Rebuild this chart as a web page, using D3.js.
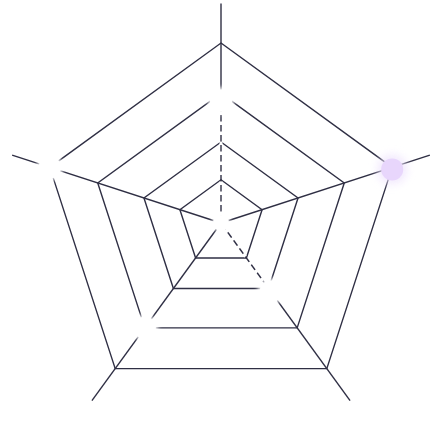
<!DOCTYPE html>
<html>
<head>
<meta charset="utf-8">
<script src="https://cdn.jsdelivr.net/npm/d3@7"></script>
<style>
	html, body { margin: 0; padding: 0; background: #ffffff; }
	#chart { width: 446px; height: 446px; }
</style>
</head>
<body>
<div id="chart"></div>
<script>
// Radar chart - five axes, four grid levels, one hovered point
(function() {
	'use strict';

	// Data
	const categories = ['A', 'B', 'C', 'D', 'E'];
	const values = [68, 100, 47, 72, 100];
	const levels = [24, 45, 72, 100];
	const maxValue = 100;
	const axisEnd = 122;
	const highlighted = 1;
	const dashedAxes = [0, 2];

	const width = 446;
	const height = 446;
	const cx = 221;
	const cy = 223;
	const outerRadius = 180;
	const lineColor = '#2f2f44';

	const svg = d3.select('#chart')
		.append('svg')
		.attr('width', width)
		.attr('height', height);

	// Filters for the soft halos
	const defs = svg.append('defs');
	defs.append('filter')
		.attr('id', 'halo')
		.attr('x', '-100%').attr('y', '-100%')
		.attr('width', '300%').attr('height', '300%')
		.append('feGaussianBlur')
		.attr('stdDeviation', 2.2);
	defs.append('filter')
		.attr('id', 'glow')
		.attr('x', '-100%').attr('y', '-100%')
		.attr('width', '300%').attr('height', '300%')
		.append('feGaussianBlur')
		.attr('stdDeviation', 4);

	const g = svg.append('g')
		.attr('transform', 'translate(' + cx + ',' + cy + ')');

	// Scales
	const r = d3.scaleLinear()
		.domain([0, maxValue])
		.range([0, outerRadius]);

	const angle = d3.scalePoint()
		.domain(categories)
		.range([0, 2 * Math.PI * (categories.length - 1) / categories.length]);

	function point(cat, v) {
		return d3.pointRadial(angle(cat), r(v));
	}

	// Grid levels
	const ring = d3.lineRadial()
		.angle(function(d) { return angle(d); })
		.curve(d3.curveLinearClosed);

	g.append('g')
		.attr('class', 'levels')
		.selectAll('path')
		.data(levels)
		.enter().append('path')
		.attr('d', function(lv) {
			return ring.radius(function() { return r(lv); })(categories);
		})
		.attr('fill', 'none')
		.attr('stroke', lineColor)
		.attr('stroke-width', 1.4);

	// Axes
	g.append('g')
		.attr('class', 'axes')
		.selectAll('line')
		.data(categories)
		.enter().append('line')
		.attr('x1', 0)
		.attr('y1', 0)
		.attr('x2', function(d) { return point(d, axisEnd)[0]; })
		.attr('y2', function(d) { return point(d, axisEnd)[1]; })
		.attr('stroke', lineColor)
		.attr('stroke-width', 1.4);

	// Dashed guides from centre to some points (white gaps over the axis)
	g.append('g')
		.attr('class', 'guides')
		.selectAll('line')
		.data(dashedAxes)
		.enter().append('line')
		.attr('x1', 0)
		.attr('y1', 0)
		.attr('x2', function(i) { return point(categories[i], values[i])[0]; })
		.attr('y2', function(i) { return point(categories[i], values[i])[1]; })
		.attr('stroke', '#ffffff')
		.attr('stroke-width', 3)
		.attr('stroke-dasharray', '3.5 6.5')
		.attr('stroke-dashoffset', 2);

	// Points: white markers that cover the grid
	const pts = values.map(function(v, i) {
		return { cat: categories[i], value: v, i: i };
	});
	const markers = pts.filter(function(d) { return d.i !== highlighted; })
		.concat([{ cat: categories[0], value: 0, i: -1 }]);

	const pg = g.append('g').attr('class', 'points');

	pg.selectAll('circle.halo')
		.data(markers)
		.enter().append('circle')
		.attr('class', 'halo')
		.attr('cx', function(d) { return point(d.cat, d.value)[0]; })
		.attr('cy', function(d) { return point(d.cat, d.value)[1]; })
		.attr('r', function(d) { return d.i < 0 ? 9 : 13; })
		.attr('fill', '#ffffff')
		.attr('filter', 'url(#halo)');

	pg.selectAll('circle.dot')
		.data(markers)
		.enter().append('circle')
		.attr('class', 'dot')
		.attr('cx', function(d) { return point(d.cat, d.value)[0]; })
		.attr('cy', function(d) { return point(d.cat, d.value)[1]; })
		.attr('r', function(d) { return d.i < 0 ? 8 : 11; })
		.attr('fill', '#ffffff');

	// Hovered point
	const hp = pts[highlighted];
	const hxy = point(hp.cat, hp.value);

	pg.append('circle')
		.attr('cx', hxy[0])
		.attr('cy', hxy[1] + 2)
		.attr('r', 15)
		.attr('fill', '#efe4fd')
		.attr('opacity', 0.8)
		.attr('filter', 'url(#glow)');

	pg.append('circle')
		.attr('cx', hxy[0])
		.attr('cy', hxy[1] + 2)
		.attr('r', 11)
		.attr('fill', '#e8d6fc');
})();
</script>
</body>
</html>
